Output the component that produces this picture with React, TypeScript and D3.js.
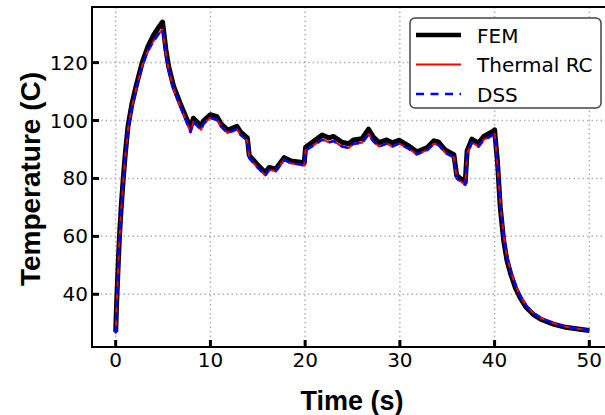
import React from 'react';
import * as d3 from 'd3';

const times = [0, 0.1, 0.25, 0.4, 0.6, 0.8, 1.0, 1.3, 1.7, 2.2, 2.8, 3.4, 4.0, 4.5, 4.95, 5.3, 5.6, 6.1, 6.8, 7.5, 7.9, 8.2, 8.6, 9.0, 9.3, 10.0, 10.7, 11.1, 11.8, 12.3, 12.8, 13.2, 13.9, 14.1, 14.9, 15.8, 16.2, 16.9, 17.8, 18.5, 19.5, 19.9, 20.05, 20.9, 21.8, 22.5, 23.0, 23.9, 24.6, 25.1, 26.0, 26.7, 27.2, 27.8, 28.6, 29.2, 29.9, 30.8, 31.8, 32.9, 33.6, 34.1, 34.8, 35.7, 36.0, 36.9, 37.1, 37.6, 38.3, 38.85, 39.9, 40.0, 40.1, 40.3, 40.6, 40.96, 41.3, 41.7, 42.2, 42.7, 43.3, 44.1, 45.0, 46.2, 47.5, 49.0, 50.0];

const femTemps = [27, 37, 49, 60, 71, 80, 88, 98, 105.5, 112.5, 120, 125.5, 129.5, 132, 134, 124.5, 118.5, 112, 106, 100.5, 97.5, 100.8, 99.5, 98, 100, 102, 101.3, 99, 96.7, 97.3, 98, 96, 94, 88, 85, 82, 83.8, 83.3, 87.2, 86, 85.6, 85.2, 90.8, 92.8, 95, 94, 94.5, 92.5, 92, 93.3, 93.7, 97, 94.3, 92.4, 93.3, 92.3, 93.2, 91.5, 89.2, 90.7, 93, 92.5, 89.8, 88.2, 81, 78.6, 89.5, 93.6, 92.2, 94.5, 96.4, 96.8, 93, 86, 70, 58.5, 51.8, 47, 42.2, 38.8, 35.6, 33, 31.2, 29.7, 28.6, 27.9, 27.5];

const rcTemps = [26.5, 36, 48, 59, 70, 79, 87, 97, 104.5, 111.5, 119, 124, 127.5, 129.8, 131.5, 123, 117.5, 111, 105, 99.5, 96, 99.5, 98.3, 96.8, 99, 101, 100.3, 98, 95.7, 96.3, 97, 95, 93, 87, 84, 81, 83, 82.5, 86.5, 85.2, 84.8, 84.4, 89.8, 91.5, 93.5, 92.5, 93, 91, 90.5, 92, 92.3, 95.3, 92.8, 91, 92, 91, 92, 90.5, 88.3, 89.8, 92, 91.5, 88.8, 87.3, 80, 77.8, 88.5, 92.5, 91, 93.3, 95.2, 95.4, 92, 85, 71.5, 60, 53, 48, 43, 39.5, 36.2, 33.5, 31.6, 30, 28.8, 28, 27.6];

const dssTemps = [26.5, 36.2, 48.1, 59, 70, 79.1, 87, 97, 104.4, 111.5, 119, 124, 127.4, 129.7, 131.4, 123, 117.4, 111, 105, 99.4, 96, 99.4, 98.2, 96.8, 99, 100.9, 100.2, 98, 95.7, 96.3, 97, 95, 93, 87, 84, 81, 83, 82.5, 86.4, 85.2, 84.8, 84.4, 89.7, 91.4, 93.4, 92.4, 92.9, 91, 90.5, 92, 92.2, 95.2, 92.8, 91, 92, 91, 92, 90.5, 88.3, 89.8, 92, 91.5, 88.8, 87.3, 80, 77.8, 88.4, 92.4, 91, 93.2, 95.1, 95.3, 92, 85, 71.6, 60.1, 53, 48, 43, 39.5, 36.2, 33.5, 31.6, 30, 28.8, 28, 27.6];

const xTicks = [0, 10, 20, 30, 40, 50];
const yTicks = [40, 60, 80, 100, 120];

const legendItems = ['FEM', 'Thermal RC', 'DSS'];

const W = 605, H = 415;
const left = 92, top = 7, right = 613, bottom = 347;

export default function App() {
  const x = d3.scaleLinear().domain([-2.5, 52.5]).range([left, right]);
  const y = d3.scaleLinear().domain([21.8, 139.2]).range([bottom, top]);

  const line = d3.line<number>()
    .x((d, i) => x(times[i]))
    .y(d => y(d));

  const tickFont = '"DejaVu Sans", sans-serif';
  const labelFont = '"Liberation Sans", Arial, sans-serif';

  return (
    <svg width={W} height={H} style={{ position: 'absolute', left: 0, top: 0, background: '#fff' }}>
      <defs>
        <clipPath id="plot">
          <rect x={left} y={top} width={right - left} height={bottom - top} />
        </clipPath>
      </defs>

      {/* grid */}
      {xTicks.map(t => (
        <line key={'gx' + t} x1={x(t)} x2={x(t)} y1={top} y2={bottom}
          stroke="#b0b0b0" strokeWidth={1.5} strokeDasharray="1.5,3" />
      ))}
      {yTicks.map(t => (
        <line key={'gy' + t} x1={left} x2={right} y1={y(t)} y2={y(t)}
          stroke="#b0b0b0" strokeWidth={1.5} strokeDasharray="1.5,3" />
      ))}

      {/* series */}
      <g clipPath="url(#plot)" fill="none" strokeLinejoin="round">
        <path d={line(femTemps) || ''} stroke="#000" strokeWidth={5} />
        <path d={line(rcTemps) || ''} stroke="#ff0000" strokeWidth={2} />
        <path d={line(dssTemps) || ''} stroke="#0000ff" strokeWidth={2.5} strokeDasharray="8,5" />
      </g>

      {/* spines */}
      <rect x={left} y={top} width={right - left} height={bottom - top} fill="none" stroke="#000" strokeWidth={2} />

      {/* ticks */}
      {xTicks.map(t => (
        <g key={'tx' + t}>
          <line x1={x(t)} x2={x(t)} y1={bottom} y2={bottom - 7} stroke="#000" strokeWidth={3} />
          <text x={x(t)} y={367} textAnchor="middle" fontFamily={tickFont} fontSize={20} fill="#000">{t}</text>
        </g>
      ))}
      {yTicks.map(t => (
        <g key={'ty' + t}>
          <line x1={left} x2={left + 7} y1={y(t)} y2={y(t)} stroke="#000" strokeWidth={3} />
          <text x={88} y={y(t) + 7} textAnchor="end" fontFamily={tickFont} fontSize={20} fill="#000">{t}</text>
        </g>
      ))}

      {/* axis labels */}
      <text x={352} y={410} textAnchor="middle" fontFamily={labelFont} fontWeight="bold" fontSize={27} fill="#000">Time (s)</text>
      <text transform="translate(40,179) rotate(-90)" textAnchor="middle" fontFamily={labelFont} fontWeight="bold" fontSize={28} fill="#000">Temperature (C)</text>

      {/* legend */}
      <rect x={410} y={18} width={191} height={90} rx={5} fill="#fff" stroke="#444" strokeWidth={1.5} />
      {legendItems.map((name, i) => {
        const cy = 35 + i * 29.5;
        return (
          <g key={name}>
            {i === 0 && <line x1={416} x2={461} y1={cy} y2={cy} stroke="#000" strokeWidth={4.5} />}
            {i === 1 && <line x1={416} x2={461} y1={cy} y2={cy} stroke="#ff0000" strokeWidth={2} />}
            {i === 2 && <line x1={416} x2={461} y1={cy} y2={cy} stroke="#0000ff" strokeWidth={2.5} strokeDasharray="8,6.5" />}
            <text x={477} y={cy + 7.5} fontFamily={tickFont} fontSize={20} fill="#000">{name}</text>
          </g>
        );
      })}
    </svg>
  );
}
